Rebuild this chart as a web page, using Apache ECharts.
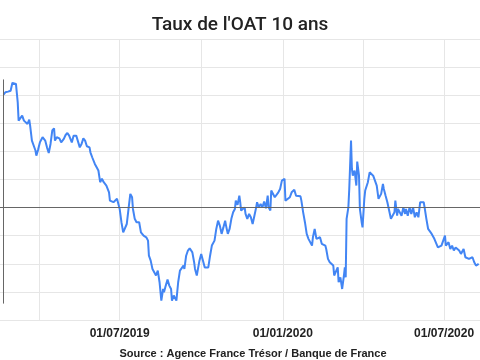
<!DOCTYPE html>
<html><head><meta charset="utf-8">
<script src="https://cdn.jsdelivr.net/npm/echarts@6/dist/echarts.min.js"></script>
<style>html,body{margin:0;padding:0;background:#fff}#c{width:480px;height:360px}</style>
</head><body><div id="c"></div>
<script>
const dates = ['2019-02-20','2019-02-22','2019-02-25','2019-02-27','2019-02-28','2019-03-02','2019-03-04','2019-03-06','2019-03-08','2019-03-09','2019-03-11','2019-03-13','2019-03-15','2019-03-17','2019-03-19','2019-03-21','2019-03-22','2019-03-24','2019-03-26','2019-03-28','2019-03-29','2019-03-31','2019-04-02','2019-04-05','2019-04-08','2019-04-10','2019-04-12','2019-04-14','2019-04-16','2019-04-18','2019-04-19','2019-04-21','2019-04-24','2019-04-26','2019-04-29','2019-05-01','2019-05-03','2019-05-05','2019-05-07','2019-05-08','2019-05-10','2019-05-13','2019-05-15','2019-05-17','2019-05-19','2019-05-21','2019-05-23','2019-05-25','2019-05-28','2019-05-29','2019-05-31','2019-06-03','2019-06-05',
'2019-06-07','2019-06-09','2019-06-11','2019-06-13','2019-06-16','2019-06-18','2019-06-19','2019-06-20','2019-06-22','2019-06-24','2019-06-26','2019-06-28','2019-06-30','2019-07-01','2019-07-03','2019-07-05','2019-07-07','2019-07-09','2019-07-11','2019-07-13','2019-07-15','2019-07-16','2019-07-18','2019-07-20','2019-07-23','2019-07-25','2019-07-27','2019-07-28','2019-07-31','2019-08-02','2019-08-03','2019-08-05','2019-08-07','2019-08-09','2019-08-11','2019-08-13','2019-08-15','2019-08-17','2019-08-19','2019-08-20','2019-08-22','2019-08-24','2019-08-26','2019-08-28','2019-08-29','2019-08-31','2019-09-02','2019-09-03','2019-09-05','2019-09-07','2019-09-09','2019-09-11','2019-09-12','2019-09-14','2019-09-16','2019-09-18','2019-09-21',
'2019-09-23','2019-09-24','2019-09-26','2019-09-28','2019-09-29','2019-10-01','2019-10-03','2019-10-05','2019-10-07','2019-10-09','2019-10-11','2019-10-13','2019-10-15','2019-10-16','2019-10-18','2019-10-20','2019-10-22','2019-10-24','2019-10-26','2019-10-28','2019-10-29','2019-10-31','2019-11-02','2019-11-04','2019-11-06','2019-11-08','2019-11-09','2019-11-11','2019-11-13','2019-11-14','2019-11-15','2019-11-17','2019-11-19','2019-11-20','2019-11-22','2019-11-24','2019-11-26','2019-11-28','2019-11-30','2019-12-02','2019-12-03','2019-12-05','2019-12-07','2019-12-09','2019-12-11','2019-12-13','2019-12-15','2019-12-16','2019-12-18','2019-12-19','2019-12-21','2019-12-23','2019-12-25','2019-12-27','2019-12-29','2019-12-31','2020-01-03','2020-01-04','2020-01-06',
'2020-01-09','2020-01-11','2020-01-14','2020-01-16','2020-01-18','2020-01-21','2020-01-22','2020-01-24','2020-01-26','2020-01-28','2020-01-30','2020-02-01','2020-02-03','2020-02-04','2020-02-06','2020-02-08','2020-02-10','2020-02-12','2020-02-14','2020-02-16','2020-02-18','2020-02-19','2020-02-21','2020-02-23','2020-02-25','2020-02-27','2020-02-28','2020-03-01','2020-03-03','2020-03-04','2020-03-06','2020-03-08','2020-03-10','2020-03-11','2020-03-12','2020-03-13','2020-03-15','2020-03-16','2020-03-18','2020-03-19','2020-03-20','2020-03-22','2020-03-24','2020-03-25','2020-03-27','2020-03-28','2020-03-30','2020-03-31','2020-04-02','2020-04-03','2020-04-05','2020-04-06','2020-04-08','2020-04-10','2020-04-12','2020-04-14','2020-04-16','2020-04-18','2020-04-19','2020-04-21','2020-04-23','2020-04-24',
'2020-04-26','2020-04-28','2020-04-30','2020-05-02','2020-05-04','2020-05-06','2020-05-07','2020-05-09','2020-05-10','2020-05-12','2020-05-14','2020-05-16','2020-05-18','2020-05-19','2020-05-21','2020-05-23','2020-05-25','2020-05-27','2020-05-29','2020-05-31','2020-06-02','2020-06-04','2020-06-06','2020-06-08','2020-06-09','2020-06-11','2020-06-13','2020-06-15','2020-06-17','2020-06-19','2020-06-20','2020-06-22','2020-06-24','2020-06-26','2020-06-28','2020-06-30','2020-07-02','2020-07-03','2020-07-05','2020-07-06','2020-07-08','2020-07-10','2020-07-12','2020-07-14','2020-07-16','2020-07-18','2020-07-20','2020-07-21','2020-07-23','2020-07-25','2020-07-27','2020-07-29','2020-07-31','2020-08-02','2020-08-04','2020-08-06','2020-08-07','2020-08-09'];
const rates = [0.503,0.513,0.516,0.513,0.520,0.555,0.560,0.550,0.468,0.387,0.379,0.409,0.387,0.379,0.372,0.391,0.365,0.298,0.290,0.254,0.231,0.258,0.290,0.313,0.298,0.268,0.243,0.283,0.343,0.353,0.298,0.313,0.308,0.290,0.306,0.323,0.332,0.320,0.313,0.290,0.320,0.320,0.316,0.268,0.283,0.308,0.298,0.273,0.268,0.246,0.224,0.194,0.187,
0.165,0.113,0.128,0.113,0.098,0.098,0.068,0.031,0.039,0.024,0.016,0.039,0.009,-0.006,-0.065,-0.110,-0.102,-0.073,-0.006,0.061,0.046,-0.006,-0.050,-0.065,-0.065,-0.110,-0.110,-0.125,-0.132,-0.147,-0.214,-0.236,-0.273,-0.280,-0.302,-0.280,-0.332,-0.414,-0.362,-0.377,-0.347,-0.320,-0.347,-0.362,-0.414,-0.391,-0.391,-0.414,-0.332,-0.280,-0.288,-0.258,-0.273,-0.214,-0.191,-0.181,-0.199,
-0.243,-0.273,-0.302,-0.258,-0.236,-0.206,-0.236,-0.266,-0.270,-0.266,-0.214,-0.169,-0.169,-0.147,-0.095,-0.058,-0.080,-0.117,-0.088,-0.058,-0.080,-0.117,-0.095,-0.050,-0.021,-0.006,0.031,0.012,0.053,0.024,-0.013,-0.018,0.001,-0.028,-0.050,-0.028,-0.043,-0.073,-0.036,0.001,0.024,0.001,0.016,0.001,0.027,-0.003,0.053,0.001,-0.013,0.076,0.068,0.046,0.053,0.068,0.083,0.120,0.128,0.031,0.024,
0.046,0.068,0.079,0.053,0.046,0.050,0.031,-0.021,-0.065,-0.117,-0.139,-0.139,-0.169,-0.132,-0.095,-0.139,-0.147,-0.132,-0.161,-0.161,-0.169,-0.184,-0.228,-0.243,-0.243,-0.258,-0.302,-0.302,-0.266,-0.332,-0.310,-0.362,-0.302,-0.266,-0.310,-0.050,0.001,0.083,0.298,0.172,0.142,0.165,0.098,0.205,0.142,-0.006,-0.065,-0.088,0.039,0.076,0.068,0.113,0.157,0.157,0.142,0.120,0.098,0.039,0.039,0.061,0.105,0.083,
0.053,0.024,-0.013,-0.050,-0.058,-0.021,0.031,-0.036,-0.006,0.001,-0.036,0.001,-0.028,-0.006,-0.036,0.001,-0.028,0.001,-0.043,-0.021,-0.043,0.024,0.016,0.024,0.001,-0.050,-0.095,-0.088,-0.117,-0.125,-0.139,-0.147,-0.177,-0.184,-0.169,-0.177,-0.125,-0.169,-0.169,-0.154,-0.184,-0.169,-0.191,-0.177,-0.184,-0.191,-0.206,-0.214,-0.184,-0.221,-0.228,-0.228,-0.236,-0.221,-0.243,-0.258,-0.258,-0.250];
const gridDates = ['2019-04-01','2019-07-01','2019-10-01','2020-01-01','2020-04-01','2020-07-01'];
const labelDates = ['2019-07-01','2020-01-01','2020-07-01'];
const xStart = '2019-02-16T00:00:00';
const xEnd = '2020-08-10T12:00:00';
const yMin = -0.5, yMax = 0.75, yStep = 0.125;
const titleText = "Taux de l'OAT 10 ans";
const sourceText = 'Source : Agence France Trésor / Banque de France';

const ts = s => new Date(s.length === 10 ? s + 'T00:00:00' : s).getTime();
const seriesData = dates.map((d, i) => [ts(d), rates[i]]);
const pad = n => (n < 10 ? '0' : '') + n;

const chart = echarts.init(document.getElementById('c'), null, {renderer: 'canvas'});
chart.setOption({
  animation: false,
  backgroundColor: '#ffffff',
  title: [{
    text: titleText, left: 'center', top: 11,
    textStyle: {fontFamily: 'Roboto', fontSize: 19, fontWeight: 500, color: '#222'}
  }, {
    text: sourceText, left: 248, textAlign: 'center', top: 343,
    textStyle: {fontFamily: 'Liberation Sans', fontSize: 11, fontWeight: 'bold', color: '#222'}
  }],
  grid: {left: 0, right: 0, top: 39, bottom: 40},
  xAxis: {
    type: 'value', min: ts(xStart), max: ts(xEnd), scale: true,
    axisLine: {show: false},
    axisTick: {show: false, customValues: gridDates.map(ts)},
    splitLine: {show: true, lineStyle: {color: '#e6e6e6', width: 1}},
    axisLabel: {
      customValues: labelDates.map(ts),
      margin: 8,
      fontFamily: 'Liberation Sans', fontSize: 12, fontWeight: 'bold', color: '#222',
      formatter: v => { const d = new Date(v); return pad(d.getDate()) + '/' + pad(d.getMonth() + 1) + '/' + d.getFullYear(); }
    }
  },
  yAxis: {
    type: 'value', min: yMin, max: yMax, interval: yStep,
    axisLabel: {show: false}, axisLine: {show: false}, axisTick: {show: false},
    splitLine: {show: true, lineStyle: {color: '#e6e6e6', width: 1}}
  },
  series: [{
    type: 'line', data: seriesData, showSymbol: false, symbol: 'none',
    lineStyle: {color: '#4285F4', width: 2}, z: 3,
    markLine: {
      silent: true, symbol: ['none', 'none'], label: {show: false},
      data: [
        [{coord: [ts(dates[0]) - 43200000, Math.max(...rates) + 0.01]}, {coord: [ts(dates[0]) - 43200000, Math.min(...rates) - 0.013]}],
        {yAxis: 0}
      ],
      lineStyle: {color: '#666', width: 1, type: 'solid'}
    }
  }]
});
</script></body></html>
